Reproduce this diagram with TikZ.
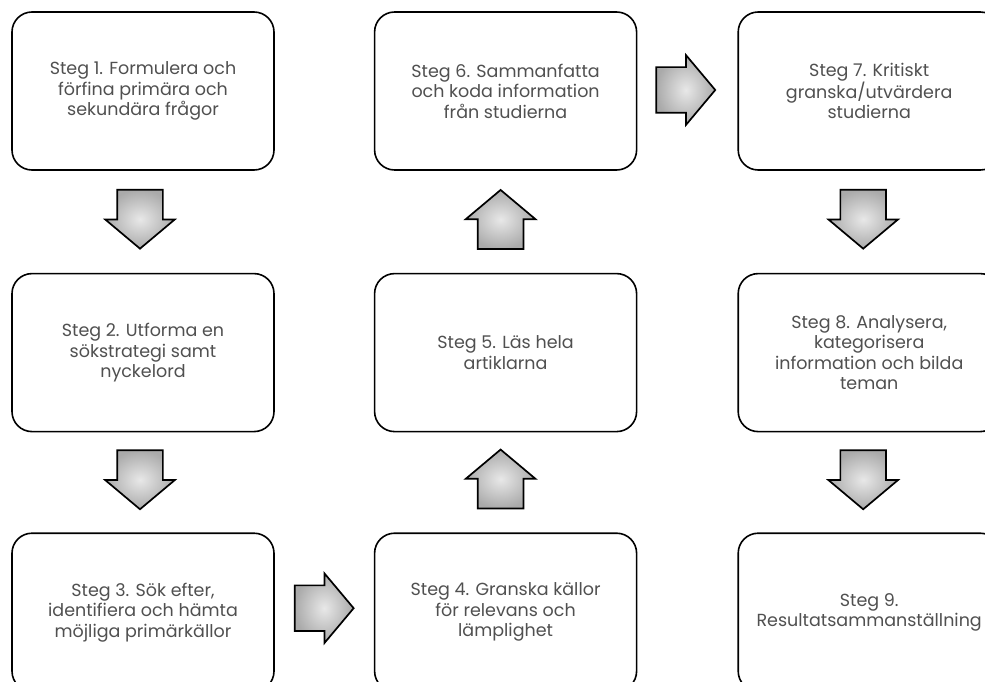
\documentclass[tikz,border=0pt]{standalone}
\usepackage{fontspec}
\setmainfont{Poppins}
\usepackage{xcolor}
\usepackage{tikz}
\usetikzlibrary{positioning, shapes.arrows, calc}
\definecolor{stegtext}{RGB}{80, 80, 80}
\definecolor{pilgrey}{RGB}{170, 170, 170}

\begin{document}
\begin{tikzpicture}[x=1pt, y=-1pt,
    stegbox/.style={rectangle, rounded corners=20pt, draw=black, fill=white, line width=1.6pt, minimum width=262pt, minimum height=158pt, align=center, text=stegtext, font=\fontsize{17.5}{20.5}\selectfont},
    pil/.style={single arrow, draw=black, line width=1.7pt, inner xsep=0pt, inner ysep=22pt, minimum height=59pt, single arrow head extend=12pt, single arrow tip angle=100, shade, inner color=gray!18, outer color=pilgrey, anchor=tail}
]

% Picture frame
\clip (0,0) rectangle (985,682);

% Column 1
\node[stegbox] (s1) at (143,91) {Steg 1. Formulera och\\förfina primära och\\sekundära frågor};
\node[stegbox, below=102pt of s1] (s2) {Steg 2. Utforma en\\sökstrategi samt\\nyckelord};
\node[stegbox, below=100pt of s2] (s3) {Steg 3. Sök efter,\\identifiera och hämta\\möjliga primärkällor};

% Column 2
\node[stegbox, right=99pt of s3] (s4) {Steg 4. Granska källor\\för relevans och\\lämplighet};
\node[stegbox, above=100pt of s4] (s5) {Steg 5. Läs hela\\artiklarna};
\node[stegbox, above=102pt of s5] (s6) {Steg 6. Sammanfatta\\och koda information\\från studierna};

% Column 3
\node[stegbox, right=100pt of s6] (s7) {Steg 7. Kritiskt\\granska/utvärdera\\studierna};
\node[stegbox, below=102pt of s7] (s8) {Steg 8. Analysera,\\kategorisera\\information och bilda\\teman};
\node[stegbox, below=100pt of s8] (s9) {Steg 9.\\Resultatsammanställning};

% Block arrows (placed by their tails)
\node[pil, rotate=-90] (p12) at ($(s1.south)+(-3,18)$) {};
\node[pil, rotate=-90] (p23) at ($(s2.south)+(-3,17)$) {};
\node[pil] (p34) at ($(s3.east)+(19,-4)$) {};
\node[pil, rotate=90] (p45) at ($(s4.north)+(-5,-23)$) {};
\node[pil, rotate=90] (p56) at ($(s5.north)+(-5,-23)$) {};
\node[pil] (p67) at ($(s6.east)+(18,-1)$) {};
\node[pil, rotate=-90] (p78) at ($(s7.south)+(-6,18)$) {};
\node[pil, rotate=-90] (p89) at ($(s8.south)+(-6,17)$) {};

\end{tikzpicture}
\end{document}
